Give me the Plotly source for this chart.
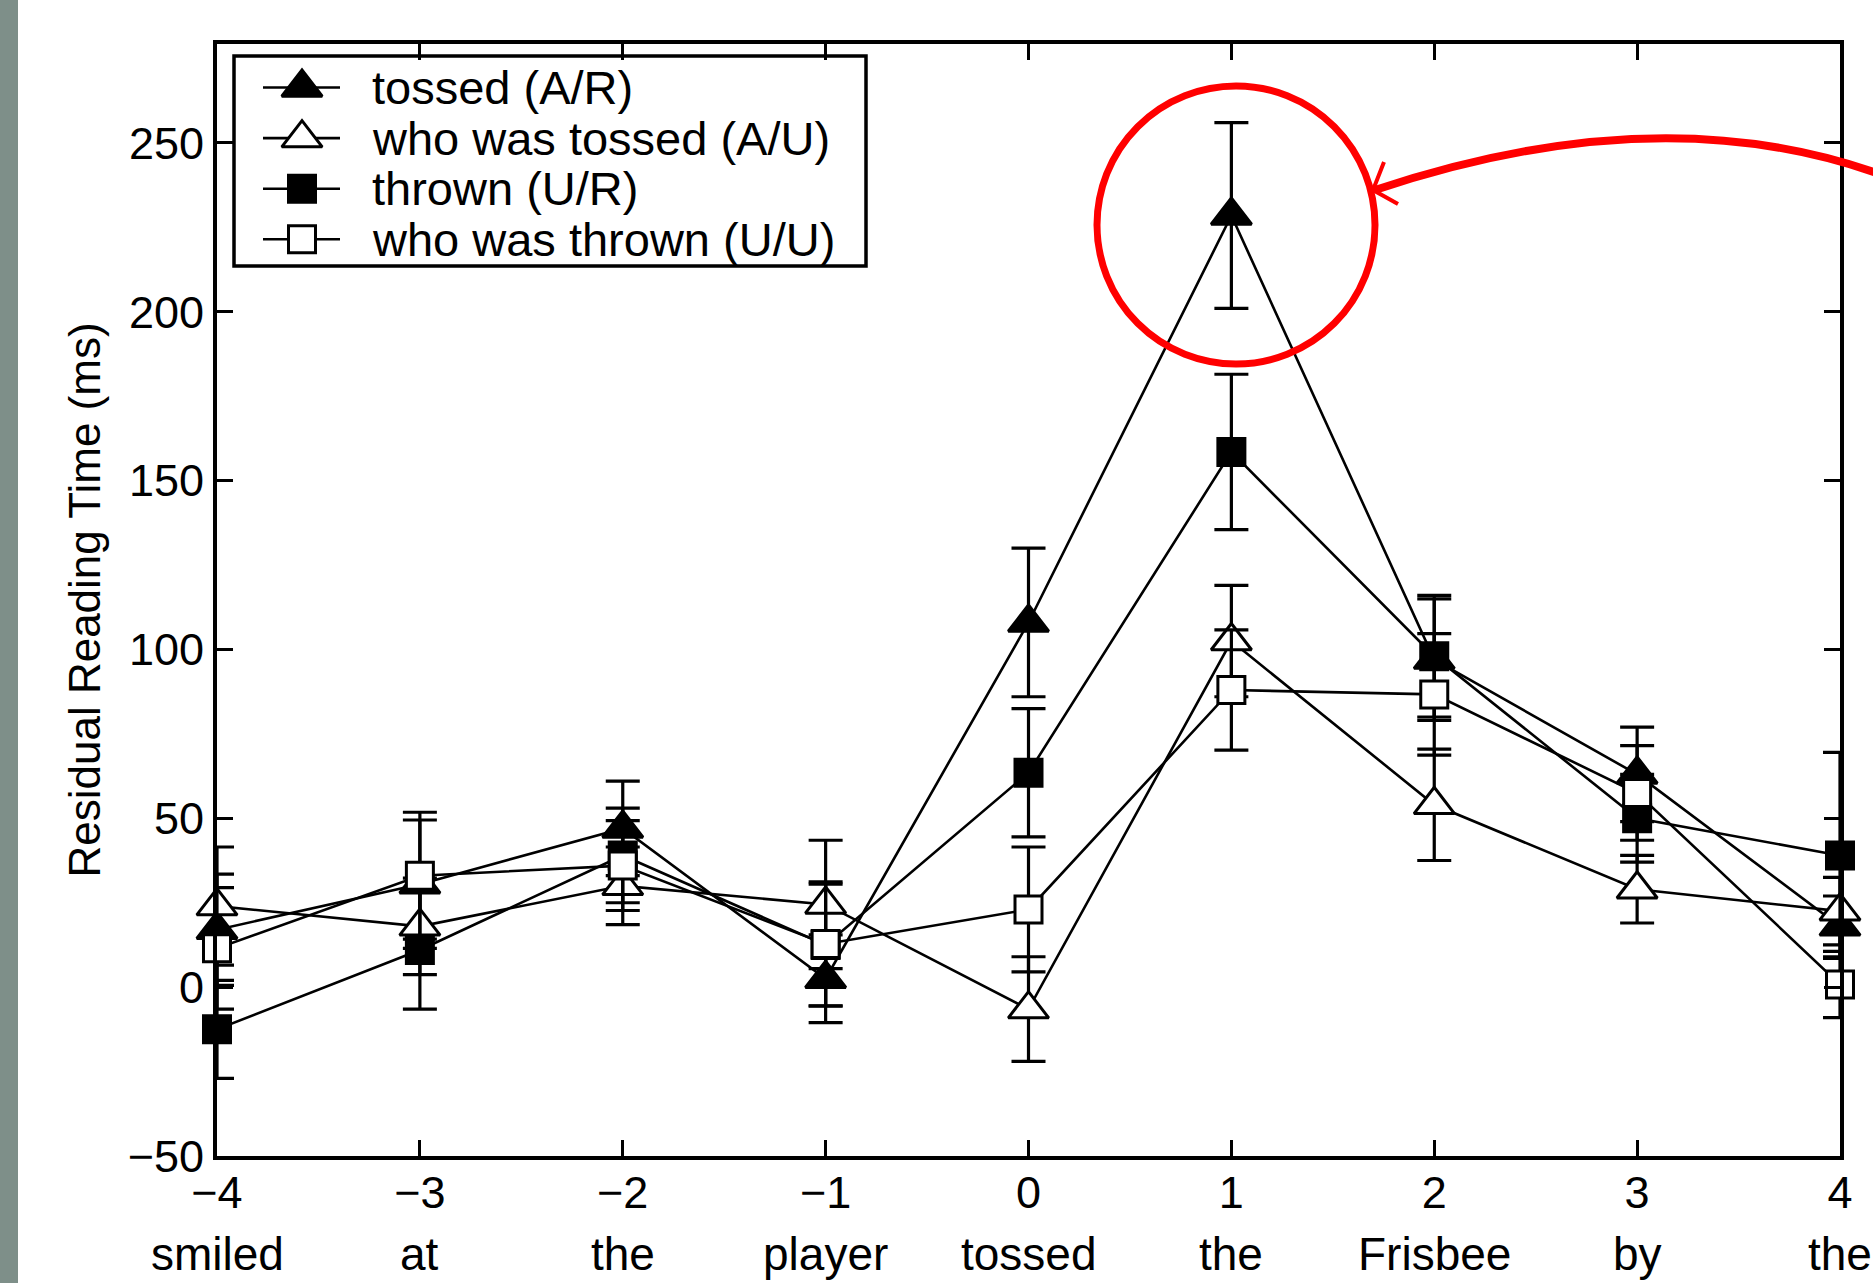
import plotly.graph_objects as go

# ---------------- data ----------------
positions = [-4, -3, -2, -1, 0, 1, 2, 3, 4]
words = ["smiled", "at", "the", "player", "tossed", "the", "Frisbee", "by", "the"]

tossed_AR = [17, 30.5, 47, 2.5, 108, 228.5, 97, 63, 18]
tossed_AR_se = [16.5, 19, 14, 13, 22, 27.5, 18, 14, 9]

who_tossed_AU = [24, 18, 30, 24.5, -6.5, 102.5, 54, 29, 22.5]
who_tossed_AU_se = [17.5, 14.3, 11.5, 19, 15.5, 16.5, 16.5, 10, 10]

thrown_UR = [-12.5, 11, 39, 12.5, 63.5, 158.5, 98, 50, 39]
thrown_UR_se = [14.5, 17.5, 14, 18, 19, 23, 18, 13, 30.5]

who_thrown_UU = [11.5, 33, 36, 12.8, 23, 88, 86.7, 57.5, 0.8]
who_thrown_UU_se = [18, 18.8, 13.3, 18.4, 18.5, 17.8, 18, 14, 9.8]

y_ticks = [-50, 0, 50, 100, 150, 200, 250]

# ---------------- figure geometry (pixels) ----------------
W, H = 1873, 1283
ML, MR, MT, MB = 217, 33, 44, 127
PW, PH = W - ML - MR, H - MT - MB

def px(x):
    return (x - ML) / PW

def py(y):
    return (H - MB - y) / PH

FONT = "Liberation Sans, Arial, Helvetica, sans-serif"

series = [
    ("tossed (A/R)", tossed_AR, tossed_AR_se, "triangle-up", "black", 35),
    ("who was tossed (A/U)", who_tossed_AU, who_tossed_AU_se, "triangle-up", "white", 35),
    ("thrown (U/R)", thrown_UR, thrown_UR_se, "square", "black", 27),
    ("who was thrown (U/U)", who_thrown_UU, who_thrown_UU_se, "square", "white", 27),
]

# legend box layout (page pixels)
LEG_L, LEG_T, LEG_R, LEG_B = 234, 56, 866, 266
LEG_ROW0, LEG_STEP = 31.5, 50.6          # row centres, relative to box top
KEY_LINE = [29, 106]                      # key line ends, relative to box left
KEY_MARK = 68                             # key marker centre
TEXT_X = 370

fig = go.Figure()
for name, vals, se, sym, fill, size in series:
    fig.add_trace(go.Scatter(
        x=positions, y=vals, name=name, mode="lines+markers",
        line=dict(color="black", width=2.6),
        marker=dict(symbol=sym, size=size, color=fill,
                    line=dict(color="black", width=3)),
        error_y=dict(type="data", array=se, visible=True,
                     color="black", thickness=3.2, width=17),
        cliponaxis=False, showlegend=False,
    ))

# legend keys drawn on a helper axis laid over the legend box
for i, (name, vals, se, sym, fill, size) in enumerate(series):
    row = LEG_ROW0 + i * LEG_STEP
    fig.add_trace(go.Scatter(
        x=KEY_LINE, y=[row, row], mode="lines", xaxis="x2", yaxis="y2",
        line=dict(color="black", width=2.6), showlegend=False,
        hoverinfo="skip", cliponaxis=False,
    ))
    fig.add_trace(go.Scatter(
        x=[KEY_MARK], y=[row], mode="markers", xaxis="x2", yaxis="y2",
        marker=dict(symbol=sym, size=size, color=fill,
                    line=dict(color="black", width=3)),
        showlegend=False, hoverinfo="skip", cliponaxis=False,
    ))
    fig.add_annotation(x=px(TEXT_X), xref="paper", y=py(LEG_T + row), yref="paper",
                       text=name, showarrow=False, xanchor="left", yanchor="middle",
                       font=dict(size=47, family=FONT, color="black"))

fig.update_layout(
    width=W, height=H, autosize=False,
    margin=dict(l=ML, r=MR, t=MT, b=MB),
    paper_bgcolor="white", plot_bgcolor="rgba(0,0,0,0)",
    font=dict(family=FONT, color="black", size=44),
    showlegend=False,
    xaxis=dict(
        range=[-4, 4], tickvals=positions,
        showline=True, linecolor="black", linewidth=4, mirror="allticks",
        ticks="inside", ticklen=16, tickwidth=3, tickcolor="black",
        showgrid=False, zeroline=False,
        tickfont=dict(size=45, family=FONT),
        ticklabelstandoff=-6,
    ),
    yaxis=dict(
        range=[-50, 279.3], tickvals=y_ticks,
        showline=True, linecolor="black", linewidth=4, mirror="allticks",
        ticks="inside", ticklen=16, tickwidth=3, tickcolor="black",
        showgrid=False, zeroline=False,
        tickfont=dict(size=45, family=FONT),
        title=dict(text="Residual Reading Time (ms)", font=dict(size=44, family=FONT),
                   standoff=14),
    ),
    xaxis2=dict(domain=[px(LEG_L), px(LEG_R)], range=[0, LEG_R - LEG_L],
                anchor="y2", visible=False, fixedrange=True),
    yaxis2=dict(domain=[py(LEG_B), py(LEG_T)], range=[LEG_B - LEG_T, 0],
                anchor="x2", visible=False, fixedrange=True),
)

# legend frame
fig.add_shape(type="rect", xref="paper", yref="paper",
              x0=px(LEG_L), x1=px(LEG_R), y0=py(LEG_B), y1=py(LEG_T),
              fillcolor="white", line=dict(color="black", width=3.5), layer="below")

# word labels under the position numbers
for p, w in zip(positions, words):
    fig.add_annotation(x=p, xref="x", y=py(1254), yref="paper", text=w,
                       showarrow=False, yanchor="middle", xanchor="center",
                       font=dict(size=46, family=FONT, color="black"))

# grey strip at the left edge of the page
fig.add_shape(type="rect", xref="paper", yref="paper",
              x0=px(-2), x1=px(18), y0=py(H + 5), y1=py(-5),
              fillcolor="#7e8f89", line=dict(width=0), layer="below")

# red highlight circle
fig.add_shape(type="circle", xref="paper", yref="paper",
              x0=px(1097), x1=px(1375), y0=py(364), y1=py(86),
              line=dict(color="#ff0000", width=7))

# red curved arrow
p0, c, p2 = (1885, 176), (1662, 94), (1375, 190)
arrow_path = "M {},{} Q {},{} {},{}".format(px(p0[0]), py(p0[1]), px(c[0]), py(c[1]),
                                            px(p2[0]), py(p2[1]))
fig.add_shape(type="path", xref="paper", yref="paper", path=arrow_path,
              line=dict(color="#ff0000", width=8))
head_path = "M {},{} L {},{} L {},{}".format(px(1384), py(162), px(1373), py(190),
                                             px(1398), py(204))
fig.add_shape(type="path", xref="paper", yref="paper", path=head_path,
              line=dict(color="#ff0000", width=4))

fig.write_html("out.html",
               config={"displayModeBar": False},
               post_script="document.body.style.margin='0px';"
                           "document.body.style.overflow='hidden';")
